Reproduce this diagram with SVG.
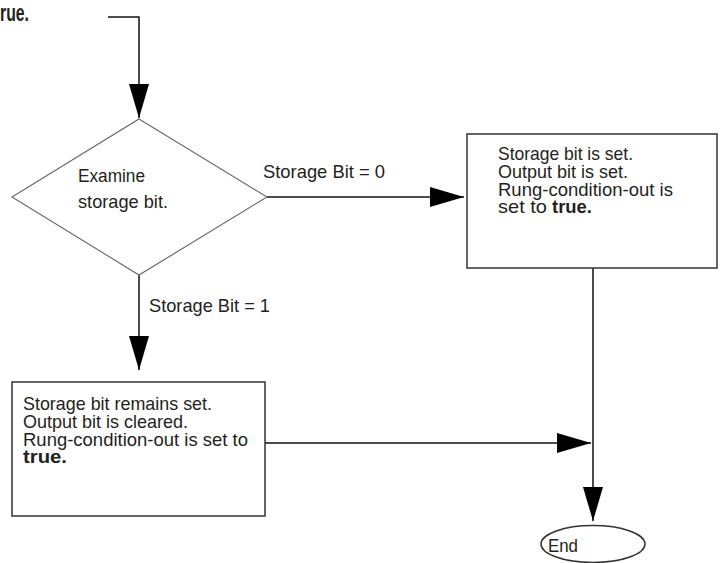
<svg xmlns="http://www.w3.org/2000/svg" width="720" height="563" viewBox="0 0 720 563">
<defs>
<style>
text{font-family:"Liberation Sans",Arial,sans-serif;font-size:19px;fill:#231f20}
.b{font-weight:bold}
.shape{fill:#fff;stroke:#333;stroke-width:1.5}
.dia{fill:#fff;stroke:#666;stroke-width:1.1}
.conn{fill:none;stroke:#111;stroke-width:1.5}
</style>
<marker id="ah" markerUnits="userSpaceOnUse" markerWidth="36" markerHeight="22" refX="34" refY="10" orient="auto">
<path d="M0,0 L34,10 L0,20 Z" fill="#000"/>
</marker>
</defs>
<rect width="720" height="563" fill="#fff"/>
<text class="b" x="0" y="21" style="font-size:23px" textLength="29" lengthAdjust="spacingAndGlyphs">rue.</text>

<g id="connectors">
<path class="conn" d="M108,17 H139 V118" marker-end="url(#ah)"/>
<path class="conn" d="M139,275 V370" marker-end="url(#ah)"/>
<path class="conn" d="M267,197 H464" marker-end="url(#ah)"/>
<path class="conn" d="M265,443 H591" marker-end="url(#ah)"/>
<path class="conn" d="M593,268 V521" marker-end="url(#ah)"/>
<text x="263" y="178" textLength="122" lengthAdjust="spacingAndGlyphs">Storage Bit = 0</text>
<text x="149" y="312" textLength="121" lengthAdjust="spacingAndGlyphs">Storage Bit = 1</text>
</g>

<g id="examine">
<polygon class="dia" points="139,119 267,197 139,275 12,197"/>
<text x="78" y="182" textLength="67" lengthAdjust="spacingAndGlyphs">Examine</text>
<text x="78" y="208" textLength="90" lengthAdjust="spacingAndGlyphs">storage bit.</text>
</g>

<g id="bit0">
<rect class="shape" x="467" y="134" width="250" height="134"/>
<text x="498" y="160" textLength="135" lengthAdjust="spacingAndGlyphs">Storage bit is set.</text>
<text x="498" y="178" textLength="130" lengthAdjust="spacingAndGlyphs">Output bit is set.</text>
<text x="498" y="196" textLength="175" lengthAdjust="spacingAndGlyphs">Rung-condition-out is</text>
<text x="498" y="213"><tspan x="498" textLength="49" lengthAdjust="spacingAndGlyphs">set to</tspan><tspan class="b" x="552" textLength="40" lengthAdjust="spacingAndGlyphs">true.</tspan></text>
</g>

<g id="bit1">
<rect class="shape" x="12" y="382" width="253" height="134"/>
<text x="23" y="410" textLength="189" lengthAdjust="spacingAndGlyphs">Storage bit remains set.</text>
<text x="23" y="428" textLength="165" lengthAdjust="spacingAndGlyphs">Output bit is cleared.</text>
<text x="23" y="446" textLength="225" lengthAdjust="spacingAndGlyphs">Rung-condition-out is set to</text>
<text class="b" x="23" y="463" textLength="44" lengthAdjust="spacingAndGlyphs">true.</text>
</g>

<g id="end">
<ellipse class="shape" cx="593" cy="544" rx="52" ry="18.5"/>
<text x="548" y="552" textLength="30" lengthAdjust="spacingAndGlyphs">End</text>
</g>
</svg>
